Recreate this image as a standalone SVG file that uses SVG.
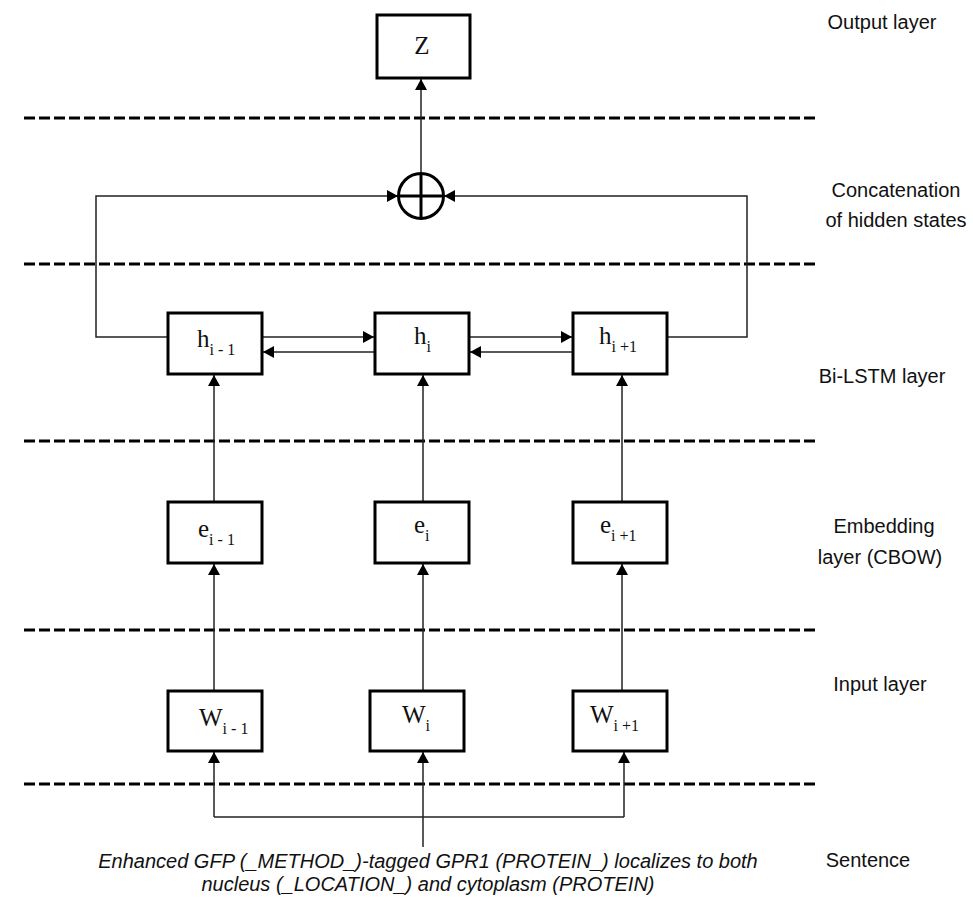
<svg xmlns="http://www.w3.org/2000/svg" width="973" height="905" viewBox="0 0 973 905">
<style>
.box{fill:#fff;stroke:#000;stroke-width:3}
.dash{stroke:#000;stroke-width:3;stroke-dasharray:11 4;fill:none}
.con{stroke:#222;stroke-width:1.5;fill:none}
.lbl{font-family:"Liberation Sans",Arial,sans-serif;font-size:20px;fill:#111;text-anchor:middle}
.sent{font-family:"Liberation Sans",Arial,sans-serif;font-size:20px;font-style:italic;fill:#111;text-anchor:middle}
.var{font-family:"Liberation Serif","DejaVu Serif",serif;font-size:25px;fill:#111}
.sub{font-size:16px}
</style>
<defs>
<marker id="ah" markerWidth="11" markerHeight="12" refX="11" refY="6" orient="auto" markerUnits="userSpaceOnUse">
<path d="M0,0 L11,6 L0,12 Z" fill="#000"/>
</marker>
</defs>
<rect width="973" height="905" fill="#fff"/>
<g id="dividers">
<line class="dash" x1="24" y1="118" x2="815" y2="118"/>
<line class="dash" x1="24" y1="264" x2="815" y2="264"/>
<line class="dash" x1="24" y1="441" x2="815" y2="441"/>
<line class="dash" x1="24" y1="630" x2="815" y2="630"/>
<line class="dash" x1="24" y1="784" x2="815" y2="784"/>
</g>
<g id="connectors">
<line class="con" x1="421" y1="173" x2="421" y2="79" marker-end="url(#ah)"/>
<polyline class="con" points="168,337 96,337 96,196 398,196" marker-end="url(#ah)"/>
<polyline class="con" points="667,337 747,337 747,196 444,196" marker-end="url(#ah)"/>
<line class="con" x1="262" y1="337" x2="374" y2="337" marker-end="url(#ah)"/>
<line class="con" x1="375" y1="352" x2="263" y2="352" marker-end="url(#ah)"/>
<line class="con" x1="469" y1="337" x2="572" y2="337" marker-end="url(#ah)"/>
<line class="con" x1="573" y1="352" x2="470" y2="352" marker-end="url(#ah)"/>
<line class="con" x1="214" y1="502" x2="214" y2="375" marker-end="url(#ah)"/>
<line class="con" x1="423" y1="502" x2="423" y2="375" marker-end="url(#ah)"/>
<line class="con" x1="622" y1="502" x2="622" y2="375" marker-end="url(#ah)"/>
<line class="con" x1="214" y1="691" x2="214" y2="564" marker-end="url(#ah)"/>
<line class="con" x1="423" y1="691" x2="423" y2="564" marker-end="url(#ah)"/>
<line class="con" x1="622" y1="691" x2="622" y2="564" marker-end="url(#ah)"/>
<polyline class="con" points="214,817 214,752" marker-end="url(#ah)"/>
<polyline class="con" points="624,817 624,752" marker-end="url(#ah)"/>
<line class="con" x1="214" y1="817" x2="624" y2="817"/>
<line class="con" x1="423" y1="847" x2="423" y2="752" marker-end="url(#ah)"/>
</g>
<g id="node-z">
<rect class="box" x="377" y="15" width="93" height="63"/>
<text class="var" x="422" y="54" text-anchor="middle">Z</text>
</g>
<g id="node-concat">
<circle cx="421" cy="196" r="22.5" fill="#fff" stroke="#000" stroke-width="3"/>
<line x1="398.5" y1="196" x2="443.5" y2="196" stroke="#000" stroke-width="3"/>
<line x1="421" y1="173.5" x2="421" y2="218.5" stroke="#000" stroke-width="3"/>
</g>
<g id="node-h-prev">
<rect class="box" x="168" y="313" width="94" height="61"/>
<text class="var" x="197" y="347">h<tspan class="sub" dy="8">i - 1</tspan></text>
</g>
<g id="node-h">
<rect class="box" x="375" y="313" width="94" height="61"/>
<text class="var" x="414" y="344">h<tspan class="sub" dy="8">i</tspan></text>
</g>
<g id="node-h-next">
<rect class="box" x="573" y="313" width="94" height="61"/>
<text class="var" x="599" y="344">h<tspan class="sub" dy="8">i +1</tspan></text>
</g>
<g id="node-e-prev">
<rect class="box" x="168" y="502" width="94" height="61"/>
<text class="var" x="198" y="537">e<tspan class="sub" dy="8">i - 1</tspan></text>
</g>
<g id="node-e">
<rect class="box" x="375" y="502" width="94" height="61"/>
<text class="var" x="414" y="533">e<tspan class="sub" dy="8">i</tspan></text>
</g>
<g id="node-e-next">
<rect class="box" x="573" y="502" width="94" height="61"/>
<text class="var" x="600" y="533">e<tspan class="sub" dy="8">i +1</tspan></text>
</g>
<g id="node-w-prev">
<rect class="box" x="168" y="691" width="94" height="60"/>
<text class="var" x="199" y="726">W<tspan class="sub" dy="8">i - 1</tspan></text>
</g>
<g id="node-w">
<rect class="box" x="370" y="691" width="94" height="60"/>
<text class="var" x="402" y="723">W<tspan class="sub" dy="8">i</tspan></text>
</g>
<g id="node-w-next">
<rect class="box" x="573" y="691" width="94" height="60"/>
<text class="var" x="590" y="723">W<tspan class="sub" dy="8">i +1</tspan></text>
</g>
<g id="layer-labels">
<text class="lbl" x="882" y="29">Output layer</text>
<text class="lbl" x="896" y="197">Concatenation</text>
<text class="lbl" x="896" y="227">of hidden states</text>
<text class="lbl" x="882" y="383">Bi-LSTM layer</text>
<text class="lbl" x="884" y="533">Embedding</text>
<text class="lbl" x="880" y="564">layer (CBOW)</text>
<text class="lbl" x="880" y="691">Input layer</text>
<text class="lbl" x="868" y="867">Sentence</text>
</g>
<g id="sentence">
<text class="sent" x="428" y="868">Enhanced GFP (_METHOD_)-tagged GPR1 (PROTEIN_) localizes to both</text>
<text class="sent" x="428" y="891">nucleus (_LOCATION_) and cytoplasm (PROTEIN)</text>
</g>
</svg>
